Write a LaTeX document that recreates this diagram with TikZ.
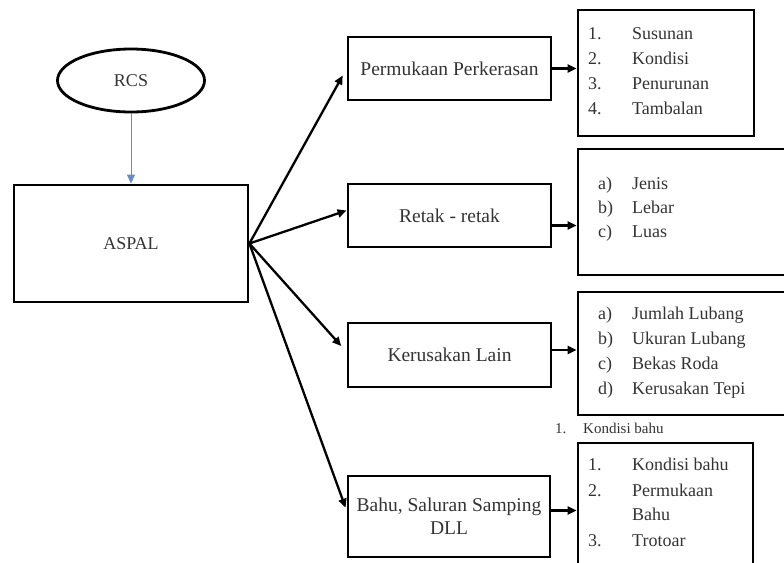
\documentclass[tikz,border=0pt]{standalone}
\usepackage{fontspec}
\setmainfont{Liberation Serif}
\usetikzlibrary{shapes.geometric,arrows.meta}
\definecolor{rcsblue}{RGB}{105,140,200}
\tikzset{box/.style={draw, line width=2.8pt, inner sep=0pt, text=black!80},
 midbox/.style={box, font=\fontsize{19.5}{23}\selectfont},
 item/.style={inner sep=0pt, anchor=mid west, text=black!80},
 link/.style={line width=2.3pt, -{Triangle[length=9pt,width=8pt]}},
 }

\begin{document}
\begin{tikzpicture}[x=1pt, y=-1pt, font=\fontsize{18}{23}\selectfont]
        \useasboundingbox (0,0) rectangle (784,562);
        \clip (0,0) rectangle (784,562);
        % left part
        \node[box, ellipse, minimum width=147pt, minimum height=63pt] (rcs) at (131,80.5) {RCS};
        \node[box, minimum width=234pt, minimum height=117pt] (aspal) at (131,243.5) {ASPAL};
        \draw[rcsblue, line width=1pt, -{Triangle[length=9pt,width=8pt]}] (rcs) -- (aspal);
        % middle boxes
        \node[midbox, minimum width=203pt, minimum height=63pt] (perm) at (449.5,68.5) {Permukaan Perkerasan};
        \node[midbox, minimum width=203pt, minimum height=63pt] (retak) at (449.5,215.5) {Retak - retak};
        \node[midbox, minimum width=203pt, minimum height=64pt] (rusak) at (449.5,355) {Kerusakan Lain};
        \node[midbox, minimum width=202pt, minimum height=81pt, align=center] (bahu) at (449,516.5) {Bahu, Saluran Samping\\DLL};
        % list boxes
        \node[box, minimum width=176pt, minimum height=126pt] (list1) at (666,73) {};
        \node[box, minimum width=222pt, minimum height=126pt] (list2) at (689,212) {};
        \node[box, minimum width=222pt, minimum height=123pt] (list3) at (689,353.5) {};
        \node[box, minimum width=175pt, minimum height=140pt] (list4) at (665.5,513) {};
        % arrows from ASPAL
        \draw[link, shorten >=8pt] (aspal.east) -- (perm.west);
        \draw[link] (aspal.east) -- ([yshift=5pt]retak.west);
        \draw[link, shorten >=8pt] (aspal.east) -- ([yshift=3pt]rusak.west);
        \draw[link, shorten >=3pt] (aspal.east) -- ([yshift=6pt]bahu.west);
        \draw[link] (perm.east) -- (perm.east -| list1.west);
        \draw[link] ([yshift=-10pt]retak.east) -- ([yshift=-10pt]retak.east -| list2.west);
        \draw[link] ([yshift=5pt]rusak.east) -- ([yshift=5pt]rusak.east -| list3.west);
        \draw[link] ([yshift=6pt]bahu.east) -- ([yshift=6pt]bahu.east -| list4.west);
        % list items
        \foreach \x[count=\i] in {Susunan, Kondisi, Penurunan, Tambalan} {
            \node[item] (a\i) at (588,12+25*\i) {\i.};
            \node[item] (at\i) at (632,12+25*\i) {\x};
        }
        \foreach \l/\x[count=\i] in {a/Jenis, b/Lebar, c/Luas} {
            \node[item] (b\i) at (598,163.5+24*\i) {\l)};
            \node[item] (bt\i) at (632,163.5+24*\i) {\x};
        }
        \foreach \l/\x[count=\i] in {a/Jumlah Lubang, b/Ukuran Lubang, c/Bekas Roda, d/Kerusakan Tepi} {
            \node[item] (c\i) at (598,292+25*\i) {\l)};
            \node[item] (ct\i) at (632,292+25*\i) {\x};
        }
        \node[item] (d1) at (588,468) {1.};
        \node[item] (dt1) at (632,468) {Kondisi bahu};
        \node[item] (d2) at (588,494) {2.};
        \node[item] (dt2) at (632,494) {Permukaan};
        \node[item] (dt2b) at (632,518) {Bahu};
        \node[item] (d3) at (588,544) {3.};
        \node[item] (dt3) at (632,544) {Trotoar};
        % loose label above the last list
        \node[item, font=\fontsize{15}{18}\selectfont] (e1) at (555,431) {1.};
        \node[item, font=\fontsize{15}{18}\selectfont] (et1) at (583,431) {Kondisi bahu};
    \end{tikzpicture}
\end{document}
